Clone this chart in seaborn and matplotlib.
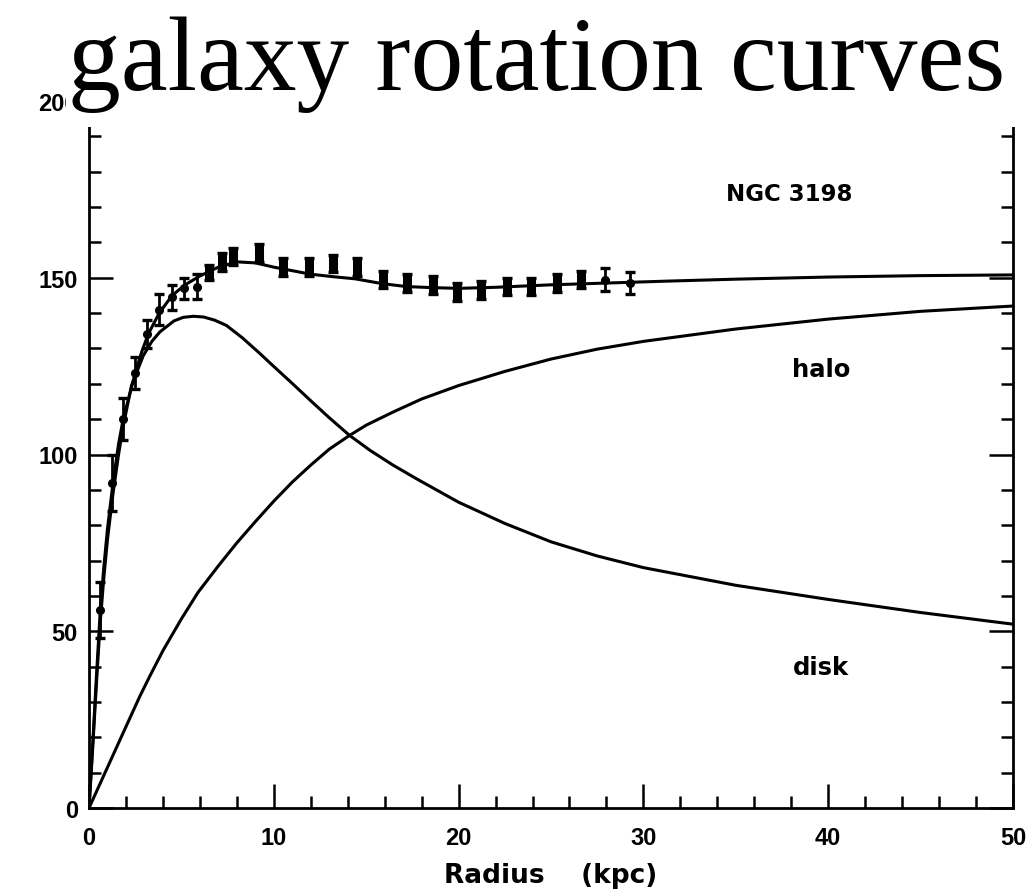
import matplotlib
matplotlib.use("Agg")
import matplotlib.pyplot as plt
import numpy as np
import pandas as pd
import seaborn as sns
from matplotlib.patches import Rectangle
from matplotlib.ticker import MultipleLocator

# NGC 3198: observed rotation velocities (radius in kpc, velocity in km/s)
r_obs = [0.6, 1.25, 1.85, 2.5, 3.15, 3.8, 4.5, 5.15, 5.85, 6.5, 7.2, 7.8,
         9.2, 10.5, 11.9, 13.2, 14.5, 15.9, 17.2, 18.6, 19.9, 21.2, 22.6,
         23.9, 25.3, 26.6, 27.9, 29.3]
v_obs = [56, 92, 110, 123, 134, 141, 144.5, 147, 147.5, 151.5, 154.5, 156,
         157, 153, 153, 154, 153, 149.5, 148.5, 148, 146, 146.5, 147.5,
         147.5, 148.5, 149.5, 149.5, 148.5]
v_err = [8, 8, 6, 4.5, 4, 4.5, 3.5, 3, 3.5, 2.2, 2.5, 2.5,
         2.5, 2.5, 2.5, 2.5, 2.5, 2.5, 2.5, 2.5, 2.5, 2.5, 2.5,
         2.5, 2.5, 2.5, 3.3, 3]

# Best-fit total model curve
r_total = [0, 0.2, 0.4, 0.6, 0.8, 1.0, 1.3, 1.6, 1.85, 2.2, 2.5, 2.85, 3.2,
           3.8, 4.5, 5.2, 6.0, 7.0, 8.0, 9.0, 10.0, 11.0, 12.0, 13.2, 14.4,
           15.9, 17.2, 18.6, 20, 22, 25, 28, 31, 35, 40, 45, 50]
v_total = [0, 18, 37, 55, 68, 79, 92, 103, 110, 117, 123, 129, 134,
           140, 145, 148, 150.5, 153, 154.5, 154.2, 153, 152, 151, 150.3, 149.7,
           148.3, 147.5, 147.2, 147, 147.3, 148, 148.5, 149, 149.6, 150.2, 150.6, 150.8]

# Stellar disk contribution
r_disk = [0, 0.2, 0.4, 0.6, 0.8, 1.0, 1.3, 1.6, 1.85, 2.3, 2.94, 3.4, 3.84, 4.6,
          5.1, 5.64, 6.2, 6.8, 7.44, 8.3, 9.2, 10, 11, 12, 13, 14.1, 15.2, 16.45,
          17.7, 20, 22.5, 25, 27.5, 30, 35, 40, 45, 50]
v_disk = [0, 17, 35, 52, 65, 76, 89, 100, 108, 119.5, 128, 132, 134.7, 137.8,
          138.8, 139.1, 138.9, 138.0, 136.5, 133, 128.8, 124.9, 120.1, 115.2, 110.4,
          105.4, 101.2, 97, 93.2, 86.5, 80.5, 75.3, 71.3, 68, 63, 59, 55.3, 52]

# Dark halo contribution
r_halo = [0, 1, 2, 2.76, 3.3, 4, 5, 5.9, 7, 8, 9, 10, 11, 12, 13, 14.1, 15,
          16.45, 18, 20, 22.5, 25, 27.5, 30, 35, 40, 45, 50]
v_halo = [0, 11.5, 23, 31.7, 37.4, 44.5, 53.5, 61, 68.5, 75, 81, 86.8, 92.2, 97,
          101.5, 105.4, 108.3, 112, 115.7, 119.5, 123.5, 127, 129.8, 132, 135.5,
          138.3, 140.5, 142]

x_ticks = [0, 10, 20, 30, 40, 50]
y_ticks = [0, 50, 100, 150, 200]

curves = pd.concat([
    pd.DataFrame({"radius": r_total, "velocity": v_total, "component": "total"}),
    pd.DataFrame({"radius": r_disk, "velocity": v_disk, "component": "disk"}),
    pd.DataFrame({"radius": r_halo, "velocity": v_halo, "component": "halo"}),
], ignore_index=True)

sns.set_theme(style="ticks")
plt.rcParams["font.family"] = ["DejaVu Sans"]
plt.rcParams["text.color"] = "black"

fig = plt.figure(figsize=(10.26, 8.95), dpi=100)
ax = fig.add_axes([89 / 1026, 1 - 809 / 895, (1013 - 89) / 1026, (809 - 102) / 895])

sns.lineplot(data=curves, x="radius", y="velocity", units="component",
             estimator=None, sort=False, color="black", lw=2.2, ax=ax)

# error bars: thin I-beams for all points, solid blocks where errors are small
ax.errorbar(r_obs, v_obs, yerr=v_err, fmt="o", color="black", ms=5.5,
            elinewidth=2.0, capsize=3.8, capthick=2.4, zorder=4)
small = np.array(v_err) <= 2.6
ax.errorbar(np.array(r_obs)[small], np.array(v_obs)[small],
            yerr=np.array(v_err)[small], fmt="none", ecolor="black",
            elinewidth=6.5, capsize=0, zorder=4)

ax.set_xlim(0, 50)
ax.set_ylim(0, 200)
ax.set_xticks(x_ticks)
ax.set_yticks(y_ticks)
ax.xaxis.set_minor_locator(MultipleLocator(2))
ax.yaxis.set_minor_locator(MultipleLocator(10))
ax.tick_params(which="both", direction="in", right=True, top=False,
               color="black", width=1.8)
ax.tick_params(which="major", length=17.5)
ax.tick_params(which="minor", length=8.5)
ax.tick_params(axis="x", which="major", pad=13)
ax.tick_params(axis="y", which="major", pad=8)
for lab in ax.get_xticklabels() + ax.get_yticklabels():
    lab.set_family(["Liberation Sans", "DejaVu Sans"])
    lab.set_fontsize(17)
    lab.set_fontweight("bold")
    lab.set_color("black")

for side in ["left", "bottom", "right", "top"]:
    ax.spines[side].set_linewidth(2.0)
    ax.spines[side].set_color("black")
ax.set_xlabel("Radius    (kpc)", fontsize=19, fontweight="bold", labelpad=9,
              color="black")
ax.set_ylabel("")

ax.text(37.9, 173.8, "NGC 3198", fontsize=16.5, fontweight="bold", ha="center",
        va="center", color="black")
ax.text(39.6, 124.3, "halo", fontsize=17.5, fontweight="bold", ha="center",
        va="center", color="black")
ax.text(39.6, 39.9, "disk", fontsize=17.5, fontweight="bold", ha="center",
        va="center", color="black")

# slide title sits on a white band over the top of the frame
fig.patches.append(Rectangle((66 / 1026, 1 - 128 / 895), 1, 128 / 895,
                             transform=fig.transFigure, facecolor="white",
                             edgecolor="none", zorder=10))
fig.text(537 / 1026, 1 - 90 / 895, "galaxy rotation curves",
         family=["Liberation Serif", "DejaVu Serif"], fontsize=76,
         ha="center", va="baseline", color="black", zorder=11)

fig.savefig("out.png", dpi=100, facecolor="white")
